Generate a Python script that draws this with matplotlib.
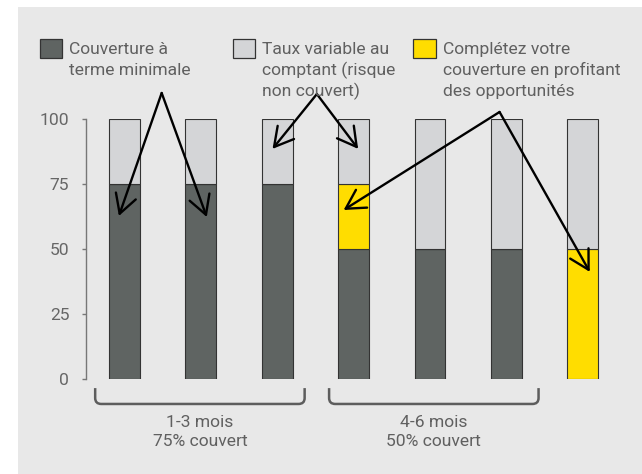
#!/usr/bin/env python3

import numpy as np
import matplotlib
matplotlib.use("Agg")
import matplotlib.pyplot as plt
from matplotlib.patches import Rectangle, PathPatch
from matplotlib.path import Path

# data (percent of exposure, one bar per month)
mois = [1, 2, 3, 4, 5, 6, 7]
couverture_min = [75, 75, 75, 50, 50, 50, 0]
opportunites = [0, 0, 0, 25, 0, 0, 50]
non_couvert = [25, 25, 25, 25, 50, 50, 50]
yticks = [0, 25, 50, 75, 100]

legend_labels = [
    ["Couverture à", "terme minimale"],
    ["Taux variable au", "comptant (risque", "non couvert)"],
    ["Complétez votre", "couverture en profitant", "des opportunités"],
]
group_labels = ["1-3 mois\n75% couvert", "4-6 mois\n50% couvert"]

DARK = "#5f6462"
LIGHT = "#d4d5d7"
YELLOW = "#ffdd00"
BG = "#e8e8e8"
TXT = "#606060"
FONT = "Roboto"
FS = 12.6
WEIGHT = "normal"

W, H = 642, 474


def fx(x):
    return x / W


def fy(y):
    return 1 - y / H


def main():
    fig = plt.figure(figsize=(6.42, 4.74), dpi=100, facecolor="white")

    # grey panel behind everything
    fig.patches.append(Rectangle((fx(18), 0), 1 - fx(18), fy(7), transform=fig.transFigure,
                                 facecolor=BG, edgecolor="none", zorder=-5))

    # one x unit = one bar slot (~76.5 px)
    ax = fig.add_axes([fx(86), fy(379), fx(636.4) - fx(86), fy(119) - fy(379)])
    ax.set_facecolor("none")
    ax.set_zorder(1)

    x = np.arange(len(mois))
    w = 0.405
    bot = np.array(couverture_min)
    ax.bar(x, couverture_min, w, color=DARK, edgecolor="#333333", linewidth=0.8)
    ax.bar(x, opportunites, w, bottom=bot, color=YELLOW, edgecolor="#333333", linewidth=0.8)
    bot2 = bot + np.array(opportunites)
    ax.bar(x, non_couvert, w, bottom=bot2, color=LIGHT, edgecolor="#333333", linewidth=0.8)

    ax.set_xlim(-0.5, 6.7)
    ax.set_ylim(0, 100)
    ax.set_xticks([])
    ax.set_yticks(yticks)
    ax.set_yticklabels([str(t) for t in yticks], fontsize=FS, color="#666666",
                       family=FONT, weight=WEIGHT)
    ax.tick_params(axis="y", length=3, width=1, color="#777777", pad=9)
    for s in ["top", "right", "bottom"]:
        ax.spines[s].set_visible(False)
    ax.spines["left"].set_color("#777777")
    ax.spines["left"].set_linewidth(1)

    # brackets under the two groups
    rx, ry = 0.08, 2.3
    ytop, ybot = -3.5, -9.6
    for (x0, x1), lab in zip([(-0.38, 2.36), (2.68, 5.42)], group_labels):
        verts = [(x0, ytop), (x0, ybot + ry), (x0, ybot), (x0 + rx, ybot),
                 (x1 - rx, ybot), (x1, ybot), (x1, ybot + ry), (x1, ytop)]
        codes = [Path.MOVETO, Path.LINETO, Path.CURVE3, Path.CURVE3,
                 Path.LINETO, Path.CURVE3, Path.CURVE3, Path.LINETO]
        ax.add_patch(PathPatch(Path(verts, codes), facecolor="none", edgecolor="#5d5d5d",
                               linewidth=1.8, clip_on=False))
        ax.text((x0 + x1) / 2, -20.3, lab, ha="center", va="center", fontsize=FS,
                color=TXT, family=FONT, weight=WEIGHT, linespacing=1.3, clip_on=False)

    # arrows from the legend to the bars
    arrows = [
        ((0.49, 110), [(-0.07, 62.7), (1.08, 62.3)]),
        ((2.52, 109.6), [(1.94, 88.5), (3.06, 88.5)]),
        ((4.91, 102.7), [(2.87, 65), (6.09, 41.2)]),
    ]
    for apex, tips in arrows:
        for tip in tips:
            ax.annotate("", xy=tip, xytext=apex, xycoords="data", annotation_clip=False,
                        arrowprops=dict(arrowstyle="->,head_length=0.75,head_width=0.42",
                                        mutation_scale=18, color="black", lw=1.7,
                                        shrinkA=0, shrinkB=0))

    # legend drawn by hand: swatch + wrapped label
    swatches = [(40, 62, DARK), (233, 255, LIGHT), (413, 436, YELLOW)]
    text_x = [69, 262, 443]
    for (x0, x1, col), tx, lines in zip(swatches, text_x, legend_labels):
        fig.patches.append(Rectangle((fx(x0), fy(58)), fx(x1) - fx(x0), fy(39) - fy(58),
                                     transform=fig.transFigure, facecolor=col,
                                     edgecolor="#333333", linewidth=0.9, zorder=2))
        for i, line in enumerate(lines):
            fig.text(fx(tx), fy(54 + 21 * i), line, ha="left", va="baseline",
                     fontsize=FS, color=TXT, family=FONT, weight=WEIGHT)

    fig.savefig("out.png", dpi=100, facecolor="white")


if __name__ == "__main__":
    main()
